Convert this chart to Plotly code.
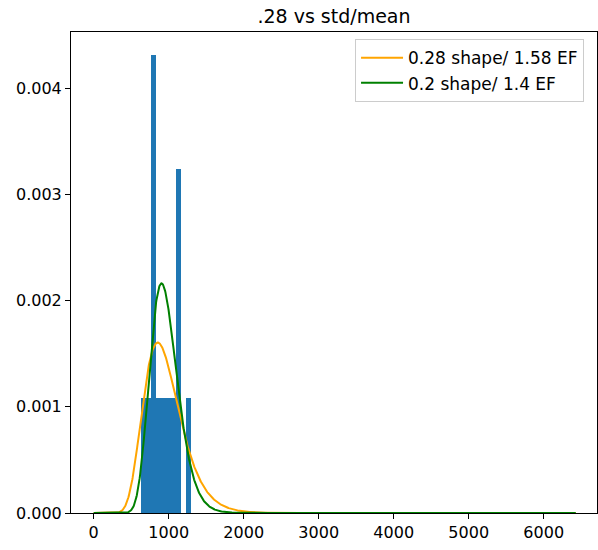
import numpy as np
import plotly.graph_objects as go

# Histogram (density-normalised) data
bin_start = 631.0
bin_width = 66.2
bin_counts = [1, 1, 4, 1, 1, 1, 1, 3, 0, 1]

# Lognormal curves: shape (sigma) and common mean
curve_names = ["0.28 shape/ 1.58 EF", "0.2 shape/ 1.4 EF"]
curve_shapes = [0.28, 0.2]
curve_mean = 960.0
curve_colors = ["orange", "green"]
x_max = 6427.0

title_text = ".28 vs std/mean"
x_ticks = [0, 1000, 2000, 3000, 4000, 5000, 6000]
y_ticks = [0.0, 0.001, 0.002, 0.003, 0.004]

n_total = sum(bin_counts)
centers = [bin_start + bin_width * (i + 0.5) for i in range(len(bin_counts))]
density = [c / (n_total * bin_width) for c in bin_counts]

FONT = "DejaVu Sans"
fig = go.Figure()
fig.add_trace(go.Bar(
    x=centers, y=density, width=[bin_width] * len(centers),
    marker=dict(color="#1f77b4", line=dict(width=0)),
    showlegend=False, hoverinfo="skip",
))

xs = np.linspace(0, x_max, 1500)
for name, s, col in zip(curve_names, curve_shapes, curve_colors):
    scale = curve_mean * np.exp(-s * s / 2)
    pdf = np.exp(-(np.log(xs.clip(1e-9) / scale)) ** 2 / (2 * s * s)) / (xs.clip(1e-9) * s * np.sqrt(2 * np.pi))
    fig.add_trace(go.Scatter(x=xs, y=pdf, mode="lines", name=name,
                             line=dict(color=col, width=2)))

fig.update_layout(
    width=598, height=550,
    margin=dict(l=71, r=1, t=32, b=37),
    plot_bgcolor="white", paper_bgcolor="white",
    bargap=0,
    font=dict(family=FONT, size=16, color="#000000"),
    title=dict(text=title_text, x=(71 + 263) / 598, xanchor="center",
               y=1 - 16 / 550, yanchor="middle",
               font=dict(family=FONT, size=19, color="#000000")),
    legend=dict(x=0.54, y=0.985, xanchor="left", yanchor="top",
                bgcolor="rgba(255,255,255,0.8)", bordercolor="#cccccc",
                borderwidth=1, font=dict(family=FONT, size=17),
                itemwidth=42, tracegroupgap=0),
)
fig.update_xaxes(
    range=[-302.7, 6710.7], tickvals=x_ticks, ticktext=[str(t) for t in x_ticks],
    showline=True, linecolor="black", linewidth=1, mirror=True,
    ticks="outside", ticklen=5, tickcolor="black", showgrid=False, zeroline=False,
)
fig.update_yaxes(
    range=[0, 0.00453], tickvals=y_ticks, ticktext=[f"{t:.3f}" for t in y_ticks],
    showline=True, linecolor="black", linewidth=1, mirror=True,
    ticks="outside", ticklen=5, tickcolor="black", showgrid=False, zeroline=False,
)
fig.write_html("out.html")
